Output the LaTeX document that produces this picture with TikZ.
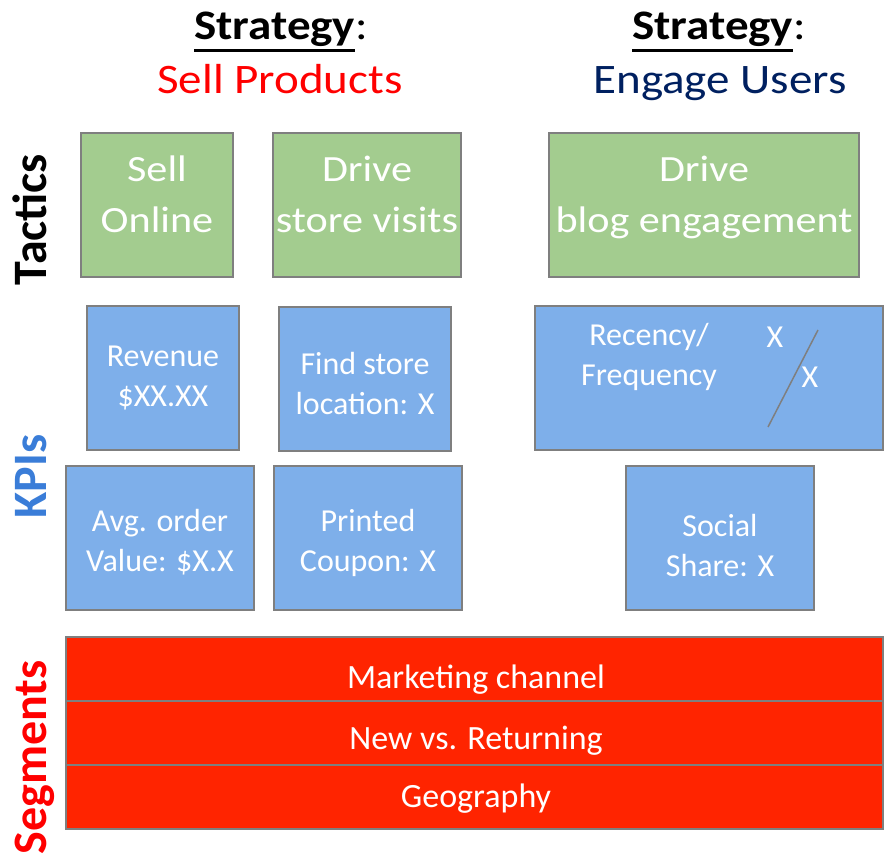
\documentclass[tikz,border=0pt]{standalone}
\usepackage{fontspec}
\setmainfont{Carlito}
\newfontfamily\headfont[FakeStretch=1.12]{Carlito}
\newfontfamily\tacticfont[FakeStretch=1.14]{Carlito}
\usetikzlibrary{positioning}

\definecolor{tacticgreen}{RGB}{163,204,143}
\definecolor{kpiblue}{RGB}{126,175,234}
\definecolor{segred}{RGB}{255,36,0}
\definecolor{boxgray}{RGB}{127,127,127}
\definecolor{kpilabel}{RGB}{58,125,216}
\definecolor{engagenavy}{RGB}{0,32,96}

\newcommand{\thickul}[1]{\setbox0\hbox{#1}\rlap{\rule[-12.5pt]{\wd0}{3pt}}\box0}

\begin{document}
\begin{tikzpicture}[x=1pt,y=-1pt,
  box/.style={draw=boxgray,line width=2pt,inner sep=0pt,text=white,align=center},
  tactic/.style={box,fill=tacticgreen,minimum height=144pt,text depth=22pt,
    font=\tacticfont\fontsize{37}{51}\selectfont},
  kpitext/.style={text=white,align=center,inner sep=0pt,font=\fontsize{32}{40}\selectfont},
  kpi/.style={box,kpitext,fill=kpiblue,minimum height=144pt},
  segrow/.style={box,fill=segred,minimum width=817pt,minimum height=64pt},
  segtext/.style={text=white,anchor=base,font=\fontsize{34}{40}\selectfont},
  side/.style={rotate=90,anchor=base,font=\fontsize{48}{48}\selectfont\bfseries},
  head/.style={anchor=base,font=\headfont\fontsize{42}{54}\selectfont}]
\useasboundingbox (0,0) rectangle (884,858);

% strategies
\node[head] (strat1) at (281,40) {\thickul{\textbf{Strategy}}:};
\node[head,text=red] (goal1) at (280,94) {Sell Products};
\node[head] (strat2) at (719,40) {\thickul{\textbf{Strategy}}:};
\node[head,text=engagenavy] (goal2) at (720,94) {Engage Users};

% row labels
\node[side] (tac) at (46,219.5) {Tactics};
\node[side,text=kpilabel] (kpis) at (46,476.5) {KPIs};
\node[side,text=red] (segs) at (46,757.5) {Segments};

% tactics
\node[tactic,minimum width=152pt] (sell) at (157,205) {Sell\\Online};
\node[tactic,minimum width=188pt] (store) at (367,205) {Drive\\store visits};
\node[tactic,minimum width=310pt] (blog) at (704,205) {Drive\\blog engagement};

% kpis
\node[kpi,minimum width=152pt] (rev) at (163,378.5) {Revenue\\\$XX.XX};
\node[kpi,minimum width=172pt,text height=71pt] (find) at (365,379) {Find store\\location: X};
\node[kpi,minimum width=348pt] (rec) at (709,378.5) {};
\node[kpitext] (recname) at (649,357) {Recency/\\Frequency};
\node[kpitext] (recx1) at (775,337) {X};
\node[kpitext] (recx2) at (810,377) {X};
\coordinate (slashtop) at (818,330);
\coordinate (slashbot) at (768,427);
\draw[boxgray,line width=1.5pt] (slashtop) -- (slashbot);

\node[kpi,minimum width=188pt,text height=71pt] (avg) at (160,538) {Avg. order\\Value: \$X.X};
\node[kpi,minimum width=188pt,text height=73pt] (coupon) at (368,538) {Printed\\Coupon: X};
\node[kpi,minimum width=188pt,text height=77pt] (social) at (720,538) {Social\\Share: X};

% segments
\node[segrow] (channel) at (474.5,669) {};
\node[segrow,below=-2pt of channel] (visitor) {};
\node[segrow,below=-2pt of visitor] (geo) {};
\foreach \txt/\y [count=\i] in {Marketing channel/688, New vs. Returning/749, Geography/807}
  \node[segtext] (segtext\i) at (476,\y) {\txt};
\end{tikzpicture}
\end{document}
